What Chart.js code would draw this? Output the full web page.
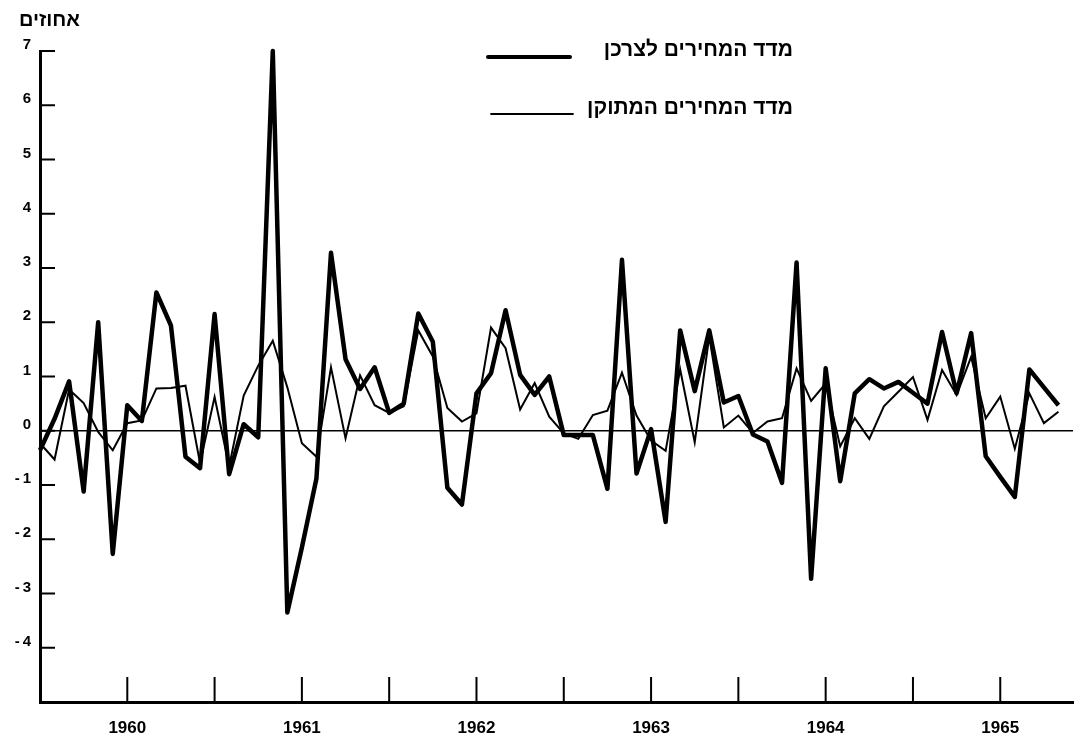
<!DOCTYPE html>
<html>
<head>
<meta charset="utf-8">
<script src="https://cdn.jsdelivr.net/npm/chart.js@4.4.1/dist/chart.umd.min.js"></script>
<style>
  html, body { margin: 0; padding: 0; background: #fff; }
  #chart { display: block; }
</style>
</head>
<body>
<canvas id="chart" width="1076" height="737"></canvas>
<script>
// monthly change in percent, mid 1959 to mid 1965
var cpi = [
  -0.36, 0.22, 0.91, -1.12, 2.0, -2.27, 0.47, 0.18, 2.55, 1.94, -0.48, -0.69,
  2.15, -0.8, 0.12, -0.12, 7.0, -3.35, -2.15, -0.88, 3.28, 1.32, 0.77, 1.17,
  0.33, 0.5, 2.16, 1.64, -1.05, -1.36, 0.69, 1.06, 2.22, 1.03, 0.66, 1.0,
  -0.08, -0.08, -0.08, -1.07, 3.15, -0.79, 0.03, -1.68, 1.85, 0.73, 1.85, 0.52,
  0.64, -0.07, -0.2, -0.96, 3.1, -2.73, 1.15, -0.93, 0.69, 0.95, 0.78, 0.9,
  0.7, 0.5, 1.82, 0.69, 1.8, -0.47, -0.85, -1.22, 1.13, 0.8, 0.47
];
var adjusted = [
  -0.23, -0.53, 0.76, 0.51, -0.02, -0.36, 0.14, 0.19, 0.78, 0.79, 0.83, -0.6,
  0.62, -0.66, 0.65, 1.2, 1.66, 0.8, -0.23, -0.48, 1.17, -0.14, 1.02, 0.47,
  0.33, 0.45, 1.85, 1.37, 0.42, 0.17, 0.32, 1.9, 1.52, 0.39, 0.88, 0.26,
  -0.05, -0.15, 0.29, 0.37, 1.07, 0.28, -0.18, -0.37, 1.13, -0.21, 1.74, 0.06,
  0.28, -0.04, 0.17, 0.23, 1.15, 0.55, 0.87, -0.29, 0.23, -0.15, 0.45, 0.72,
  0.99, 0.2, 1.12, 0.66, 1.36, 0.23, 0.63, -0.33, 0.69, 0.14, 0.35
];
var years = ['1960', '1961', '1962', '1963', '1964', '1965'];
var firstJan = 6; // index of January 1960 in the series
var seriesNames = ['מדד המחירים לצרכן', 'מדד המחירים המתוקן'];
var unitLabel = 'אחוזים';

function points(arr) {
  return arr.map(function (v, i) { return { x: i, y: v }; });
}

var halfYears = [];
for (var m = firstJan; m < cpi.length; m += 6) halfYears.push(m);

// inward tick marks, unit label and the legend
var inkPlugin = {
  id: 'ink',
  afterDraw: function (chart) {
    var c = chart.ctx, xs = chart.scales.x, ys = chart.scales.y, area = chart.chartArea;
    c.save();
    c.strokeStyle = '#000';
    c.lineWidth = 2;
    c.beginPath();
    ys.ticks.forEach(function (t) {
      if (t.value <= ys.min) return;
      var py = ys.getPixelForValue(t.value);
      c.moveTo(area.left, py);
      c.lineTo(area.left + 15, py);
    });
    xs.ticks.forEach(function (t) {
      var px = xs.getPixelForValue(t.value);
      c.moveTo(px, area.bottom);
      c.lineTo(px, area.bottom - 25);
    });
    c.stroke();

    c.fillStyle = '#000';
    c.textBaseline = 'middle';
    c.textAlign = 'right';
    c.font = 'bold 20px "Liberation Sans"';
    c.fillText(unitLabel, 80, 20);

    c.font = 'bold 21px "Liberation Sans"';
    c.fillText(seriesNames[0], 793, 50);
    c.fillText(seriesNames[1], 793, 108);
    c.lineCap = 'round';
    c.lineWidth = 4;
    c.beginPath(); c.moveTo(488, 57); c.lineTo(570, 57); c.stroke();
    c.lineWidth = 1.8;
    c.beginPath(); c.moveTo(491, 114); c.lineTo(573, 114); c.stroke();
    c.restore();
  }
};

new Chart(document.getElementById('chart'), {
  type: 'line',
  data: {
    datasets: [{
      label: seriesNames[0],
      data: points(cpi),
      borderColor: '#000',
      borderWidth: 4.5,
      borderJoinStyle: 'round',
      pointRadius: 0,
      tension: 0,
      clip: false
    }, {
      label: seriesNames[1],
      data: points(adjusted),
      borderColor: '#000',
      borderWidth: 2,
      pointRadius: 0,
      tension: 0,
      clip: false
    }]
  },
  options: {
    responsive: false,
    animation: false,
    layout: { padding: { top: 51, right: 3, left: 0, bottom: 0 } },
    scales: {
      x: {
        type: 'linear',
        min: 0,
        max: 71,
        afterBuildTicks: function (scale) {
          scale.ticks = halfYears.map(function (v) { return { value: v }; });
        },
        afterFit: function (scale) { scale.height = 35; },
        grid: { display: false, drawTicks: false },
        border: { display: true, color: '#000', width: 3 },
        ticks: {
          padding: 16,
          color: '#000',
          font: { family: 'Liberation Sans', size: 17, weight: 'bold' },
          maxRotation: 0,
          autoSkip: false,
          callback: function (v) {
            var k = (v - firstJan) / 12;
            return k === Math.floor(k) ? years[k] : '';
          }
        }
      },
      y: {
        min: -5,
        max: 7,
        afterFit: function (scale) { scale.width = 40; },
        grid: {
          drawTicks: false,
          color: function (ctx) { return ctx.tick && ctx.tick.value === 0 ? '#000' : 'rgba(0,0,0,0)'; },
          lineWidth: 1.5
        },
        border: { display: true, color: '#000', width: 3 },
        ticks: {
          stepSize: 1,
          padding: 9,
          labelOffset: -6,
          color: '#000',
          font: { family: 'Liberation Sans', size: 15, weight: 'bold' },
          callback: function (v) {
            if (v <= -5) return '';
            return v < 0 ? '-\u2009' + Math.abs(v) : String(v);
          }
        }
      }
    },
    plugins: {
      legend: { display: false },
      tooltip: { enabled: false }
    }
  },
  plugins: [inkPlugin]
});
</script>
</body>
</html>
